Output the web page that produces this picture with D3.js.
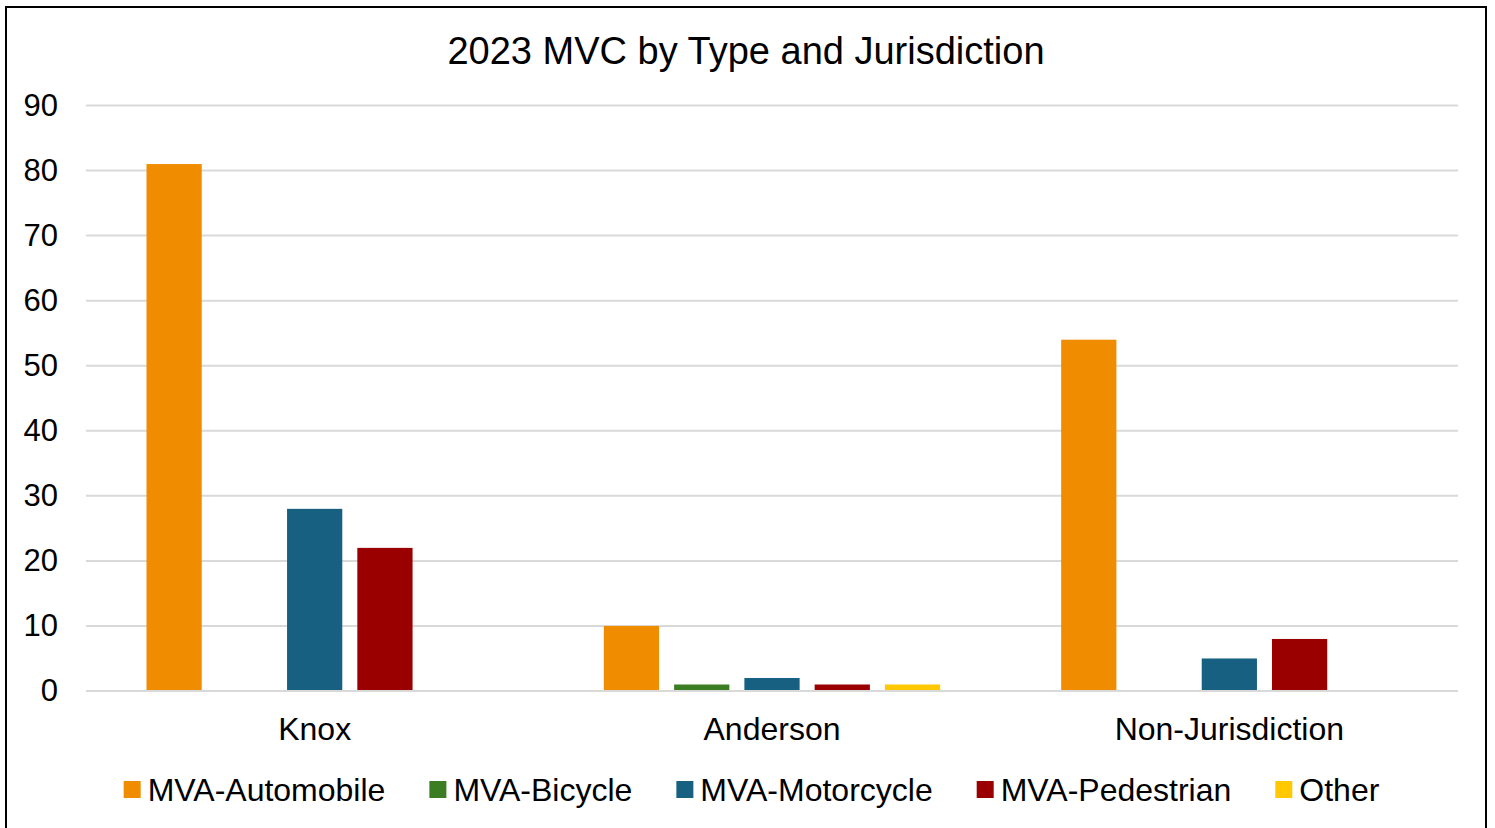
<!DOCTYPE html>
<html>
<head>
<meta charset="utf-8">
<script src="https://cdn.jsdelivr.net/npm/d3@7"></script>
<style>
  body { margin: 0; background: #fff; }
  svg { display: block; font-family: "Liberation Sans", Arial, sans-serif; }
</style>
</head>
<body>
<script>
var categories = ["Knox", "Anderson", "Non-Jurisdiction"];
var seriesNames = ["MVA-Automobile", "MVA-Bicycle", "MVA-Motorcycle", "MVA-Pedestrian", "Other"];
var automobile = [81, 10, 54];
var bicycle = [0, 1, 0];
var motorcycle = [28, 2, 5];
var pedestrian = [22, 1, 8];
var other = [0, 1, 0];
var yTicks = [0, 10, 20, 30, 40, 50, 60, 70, 80, 90];
var colors = ["#F08C00", "#3A7D22", "#176082", "#9A0000", "#FFC800"];

var values = [automobile, bicycle, motorcycle, pedestrian, other];
var dataset = categories.map(function(c, i) {
  return { cat: c, vals: seriesNames.map(function(s, j) { return { name: s, v: values[j][i], color: colors[j] }; }) };
});

var W = 1495, H = 828;
var margin = {top: 105.5, left: 86, right: 37, bottom: 137};
var width = W - margin.left - margin.right,
    height = H - margin.top - margin.bottom;

var svg = d3.select("body").append("svg")
    .attr("width", W)
    .attr("height", H);

// outer border (bottom edge runs off the page)
svg.append("path")
   .attr("d", "M6,840 L6,7 L1486,7 L1486,840")
   .attr("fill", "none")
   .attr("stroke", "#000")
   .attr("stroke-width", 2);

svg.append("text")
   .attr("x", 746)
   .attr("y", 64)
   .attr("text-anchor", "middle")
   .style("font-size", "38px")
   .attr("fill", "#000")
   .text("2023 MVC by Type and Jurisdiction");

var g = svg.append("g")
   .attr("transform", "translate(" + margin.left + "," + margin.top + ")");

var yScale = d3.scaleLinear().domain([0, 90]).range([height, 0]);
var x0 = d3.scaleBand().domain(categories).range([0, width]).padding(0);
var inner = 60.5;
var x1 = d3.scaleBand().domain(seriesNames)
   .range([inner, x0.bandwidth() - inner])
   .paddingInner(0.214).paddingOuter(0);

// gridlines
g.selectAll("line.grid")
 .data(yTicks)
 .enter()
 .append("line")
 .attr("class", "grid")
 .attr("x1", 0)
 .attr("x2", width)
 .attr("y1", d => yScale(d))
 .attr("y2", d => yScale(d))
 .attr("stroke", "#d9d9d9")
 .attr("stroke-width", 2);

var yAxis = d3.axisLeft(yScale).tickValues(yTicks).tickSize(0).tickPadding(28);
var ya = g.append("g").call(yAxis);
ya.select(".domain").remove();
ya.selectAll("text").style("font-size", "31px").attr("fill", "#000").attr("font-family", null);

var groups = g.selectAll("g.cat")
 .data(dataset)
 .enter()
 .append("g")
 .attr("class", "cat")
 .attr("transform", d => "translate(" + x0(d.cat) + ",0)");

groups.selectAll("rect")
 .data(d => d.vals.filter(v => v.v > 0))
 .enter()
 .append("rect")
 .attr("x", d => x1(d.name))
 .attr("y", d => yScale(d.v))
 .attr("width", x1.bandwidth())
 .attr("height", d => yScale(0) - yScale(d.v) - 1)
 .attr("fill", d => d.color);

var xAxis = d3.axisBottom(x0).tickSize(0).tickPadding(26);
var xa = g.append("g").attr("transform", "translate(0," + height + ")").call(xAxis);
xa.select(".domain").remove();
xa.selectAll("text").style("font-size", "32px").attr("fill", "#000").attr("font-family", null);

// legend
var legend = svg.append("g");
var lx = 0;
seriesNames.forEach(function(s, i) {
  var item = legend.append("g").attr("transform", "translate(" + lx + ",0)");
  item.append("rect").attr("x", 0).attr("y", -20).attr("width", 17).attr("height", 17).attr("fill", colors[i]);
  var t = item.append("text").attr("x", 24).attr("y", 0).style("font-size", "32px").attr("fill", "#000").text(s);
  lx += 24 + t.node().getComputedTextLength() + 44;
});
var total = lx - 44;
legend.attr("transform", "translate(" + (751.5 - total / 2) + ",801)");
</script>
</body>
</html>
